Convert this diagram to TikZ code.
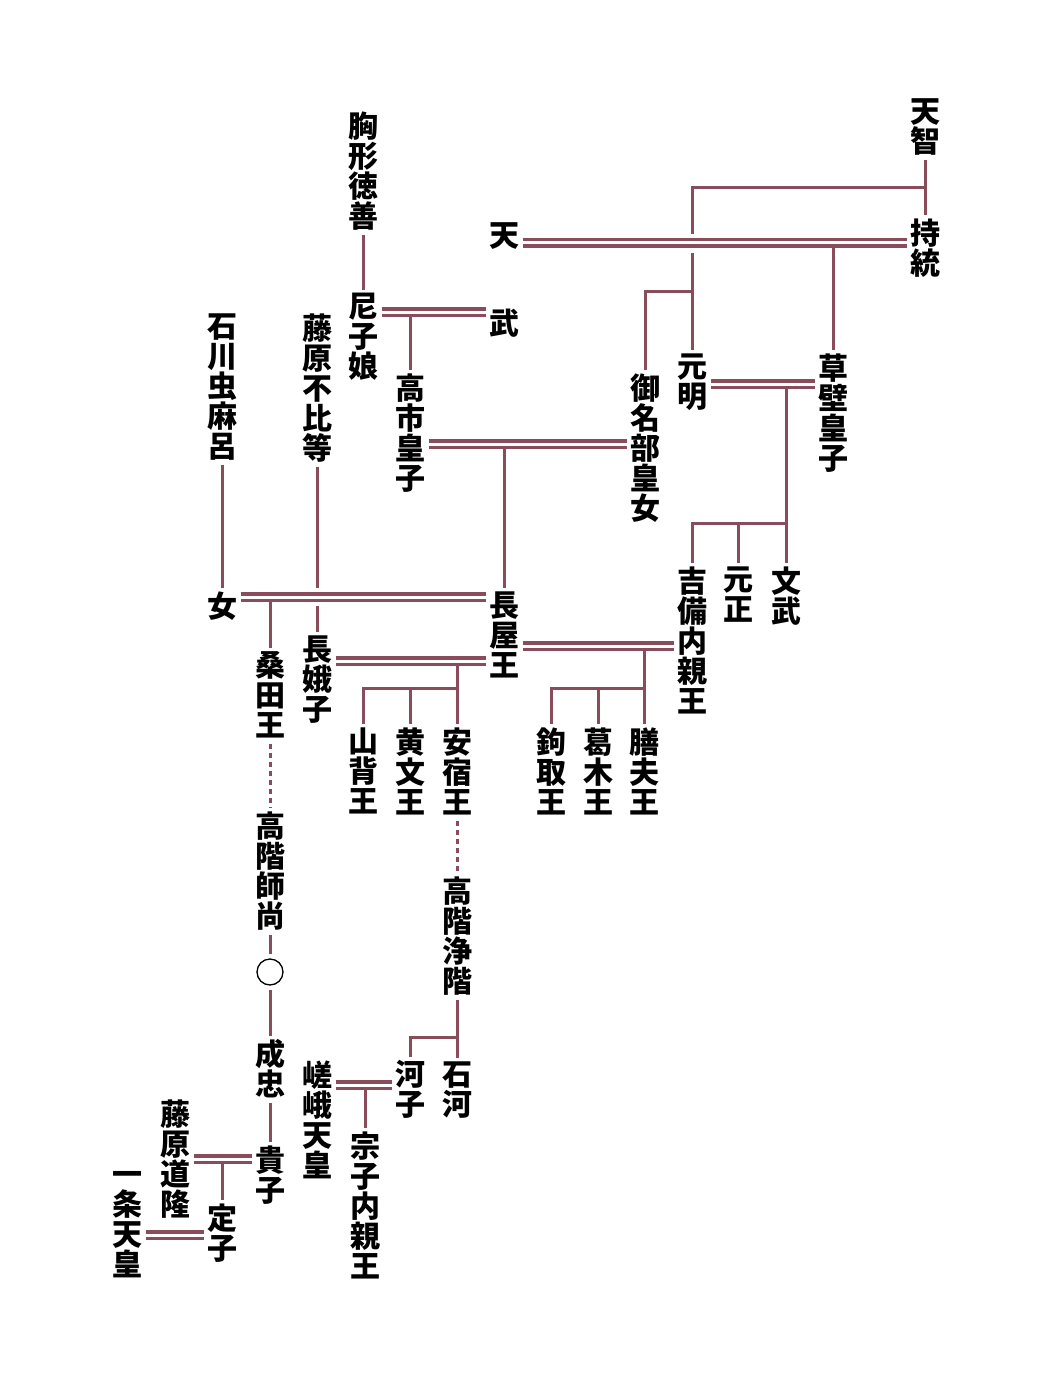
\documentclass[tikz,border=0pt]{standalone}
\usepackage{fontspec}
\newfontfamily\jp{Noto Sans CJK JP}
\definecolor{kei}{RGB}{136,76,90}

\begin{document}
\begin{tikzpicture}[x=1pt,y=-1pt,
	hito/.style={anchor=north,align=center,inner sep=0pt,outer sep=3.5pt,
		font=\jp\bfseries\fontsize{30}{30}\selectfont,
		execute at begin node={\vrule height 26pt width 0pt},
		execute at end node={\vrule depth 4pt width 0pt}},
	oya/.style={draw=kei,line width=3pt},
	fufu/.style={draw=kei,line width=3.2pt,double=white,double distance=3pt},
	tooi/.style={oya,dash pattern=on 5pt off 4pt}]
		\useasboundingbox (0,0) rectangle (1052,1396);
		
		%names right
		\node[hito] (tenji) at (925,95) {天\\智};
		\node[hito] (jito) at (925,215) {持\\統};
		\node[hito] (ten) at (504,217) {天};
		\node[hito] (mu) at (504,305) {武};
		\node[hito] (genmei) at (692,350) {元\\明};
		\node[hito] (kusakabe) at (833,350) {草\\壁\\皇\\子};
		\node[hito] (minabe) at (645,370) {御\\名\\部\\皇\\女};
		\node[hito] (monmu) at (786,563) {文\\武};
		\node[hito] (gensho) at (738,563) {元\\正};
		\node[hito] (kibi) at (692,563) {吉\\備\\内\\親\\王};
		
		%names left
		\node[hito] (munakata) at (363,108) {胸\\形\\徳\\善};
		\node[hito] (amako) at (363,290) {尼\\子\\娘};
		\node[hito] (takechi) at (410,370) {高\\市\\皇\\子};
		\node[hito] (ishikawa) at (222,310) {石\\川\\虫\\麻\\呂};
		\node[hito] (fuhito) at (317,310) {藤\\原\\不\\比\\等};
		\node[hito] (onna) at (222,588) {女};
		\node[hito] (nagaya) at (504,588) {長\\屋\\王};
		\node[hito] (kuwata) at (270,648) {桑\\田\\王};
		\node[hito] (nagako) at (317,632) {長\\娥\\子};
		\node[hito] (yamashiro) at (363,724) {山\\背\\王};
		\node[hito] (kibumi) at (410,724) {黄\\文\\王};
		\node[hito] (asuka) at (457,724) {安\\宿\\王};
		\node[hito] (kagitori) at (551,724) {鉤\\取\\王};
		\node[hito] (kazuraki) at (598,724) {葛\\木\\王};
		\node[hito] (kashiwade) at (644,724) {膳\\夫\\王};
		
		%names bottom
		\node[hito] (moronao) at (270,808) {高\\階\\師\\尚};
		\node[circle,draw,line width=1.3pt,minimum size=26pt,inner sep=0pt,outer sep=5pt] (maru) at (270,972) {};
		\node[hito] (naritada) at (270,1036) {成\\忠};
		\node[hito] (takako) at (270,1142) {貴\\子};
		\node[hito] (michitaka) at (175,1096) {藤\\原\\道\\隆};
		\node[hito] (teishi) at (222,1200) {定\\子};
		\node[hito] (ichijo) at (127,1168) {一\\条\\天\\皇};
		\node[hito] (kiyoshina) at (457,873) {高\\階\\浄\\階};
		\node[hito] (ishiko) at (457,1058) {石\\河};
		\node[hito] (kawako) at (410,1057) {河\\子};
		\node[hito] (saga) at (317,1057) {嵯\\峨\\天\\皇};
		\node[hito] (muneko) at (365,1128) {宗\\子\\内\\親\\王};
		
		%parent lines
		\draw[oya] (tenji.south) -- (jito.north);
		\draw[oya] (tenji.south |- 0,188) -- (genmei.north |- 0,188) -- (genmei.north |- 0,234);
		\draw[oya] (genmei.north |- 0,253) -- (genmei.north);
		\draw[oya] (genmei.north |- 0,292) -| (minabe.north);
		\draw[oya] (kusakabe.north |- 0,243) -- (kusakabe.north);
		\draw[oya] (monmu.north |- 0,384) -- (monmu.north);
		\draw[oya] (monmu.north |- 0,523) -| (kibi.north);
		\draw[oya] (gensho.north |- 0,523) -- (gensho.north);
		\draw[oya] (munakata.south) -- (amako.north);
		\draw[oya] (takechi.north |- 0,312) -- (takechi.north);
		\draw[oya] (nagaya.north |- 0,444) -- (nagaya.north);
		\draw[oya] (ishikawa.south) -- (onna.north);
		\draw[oya] (fuhito.south) -- (fuhito.south |- 0,588);
		\draw[oya] (nagako.north |- 0,606) -- (nagako.north);
		\draw[oya] (kuwata.north |- 0,597) -- (kuwata.north);
		\draw[oya] (asuka.north |- 0,661) -- (asuka.north);
		\draw[oya] (asuka.north |- 0,688) -| (yamashiro.north);
		\draw[oya] (kibumi.north |- 0,688) -- (kibumi.north);
		\draw[oya] (kashiwade.north |- 0,646) -- (kashiwade.north);
		\draw[oya] (kashiwade.north |- 0,688) -| (kagitori.north);
		\draw[oya] (kazuraki.north |- 0,688) -- (kazuraki.north);
		\draw[tooi] (kuwata.south) -- (moronao.north);
		\draw[oya] (moronao.south) -- (maru.north);
		\draw[oya] (maru.south) -- (naritada.north);
		\draw[oya] (naritada.south) -- (takako.north);
		\draw[oya] (teishi.north |- 0,1159) -- (teishi.north);
		\draw[tooi] (asuka.south) -- (kiyoshina.north);
		\draw[oya] (kiyoshina.south) -- (ishiko.north);
		\draw[oya] (ishiko.north |- 0,1037) -| (kawako.north);
		\draw[oya] (muneko.north |- 0,1085) -- (muneko.north);
		
		%marriages
		\draw[fufu] (ten.east |- 0,243) -- (jito.west |- 0,243);
		\draw[fufu] (genmei.east |- 0,384) -- (kusakabe.west |- 0,384);
		\draw[fufu] (amako.east |- 0,312) -- (mu.west |- 0,312);
		\draw[fufu] (takechi.east |- 0,444) -- (minabe.west |- 0,444);
		\draw[fufu] (onna.east |- 0,597) -- (nagaya.west |- 0,597);
		\draw[fufu] (nagako.east |- 0,661) -- (nagaya.west |- 0,661);
		\draw[fufu] (nagaya.east |- 0,646) -- (kibi.west |- 0,646);
		\draw[fufu] (michitaka.east |- 0,1159) -- (takako.west |- 0,1159);
		\draw[fufu] (ichijo.east |- 0,1235) -- (teishi.west |- 0,1235);
		\draw[fufu] (saga.east |- 0,1085) -- (kawako.west |- 0,1085);
\end{tikzpicture}
\end{document}
